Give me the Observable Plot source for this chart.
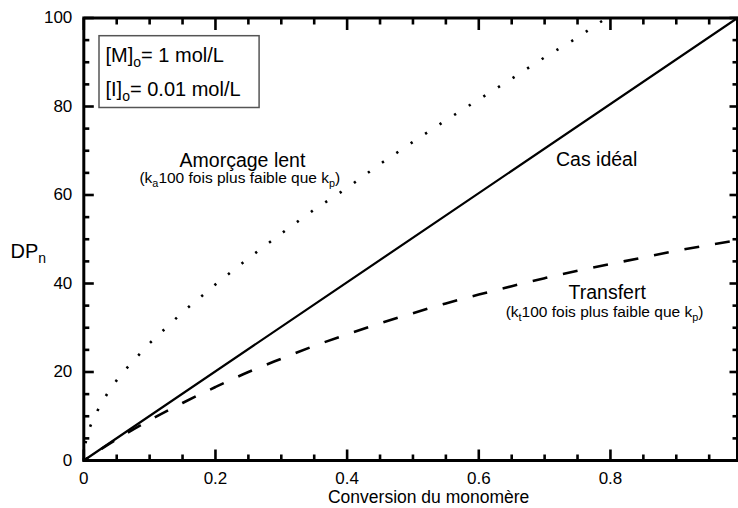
<!DOCTYPE html>
<html><head><meta charset="utf-8">
<script src="https://cdn.jsdelivr.net/npm/d3@7"></script>
<script src="https://cdn.jsdelivr.net/npm/@observablehq/plot@0.6"></script>
<style>html,body{margin:0;padding:0;background:#fff;}</style>
</head><body><div id="chart"></div>
<script>
// ---- data ----
const idealConversion = [0, 0.993];
const idealDP = [0, 100];

const slowConversion = [0, 0.002, 0.0066, 0.0157, 0.027, 0.041, 0.057, 0.075, 0.1, 0.15, 0.2, 0.25, 0.3, 0.35, 0.4, 0.45, 0.5, 0.55, 0.6, 0.65, 0.7, 0.75, 0.79];
const slowDP = [0, 3.5, 6.6, 9.8, 13, 16.4, 19.5, 22.5, 26.5, 33.5, 39.8, 45.7, 51.3, 56.7, 61.6, 67.0, 72.0, 76.9, 81.6, 86.3, 91.1, 95.6, 99.6];

const transferConversion = [0, 0.05, 0.1, 0.15, 0.2, 0.25, 0.3, 0.35, 0.4, 0.45, 0.5, 0.55, 0.6, 0.65, 0.7, 0.75, 0.8, 0.85, 0.9, 0.95, 0.993];
const transferDP = [0, 4.8, 9.1, 13.0, 16.6, 20.0, 23.0, 25.9, 28.5, 31.0, 33.3, 35.5, 37.5, 39.4, 41.2, 42.9, 44.4, 45.9, 47.4, 48.7, 49.8];

const xMajorTicks = [0, 0.2, 0.4, 0.6, 0.8];
const xTickLabels = ["0", "0.2", "0.4", "0.6", "0.8"];
const xMinorTicks = [0.05, 0.1, 0.15, 0.25, 0.3, 0.35, 0.45, 0.5, 0.55, 0.65, 0.7, 0.75, 0.85, 0.9, 0.95];
const yMajorTicks = [0, 20, 40, 60, 80, 100];
const yTickLabels = ["0", "20", "40", "60", "80", "100"];
const yMinorTicks = [5, 10, 15, 25, 30, 35, 45, 50, 55, 65, 70, 75, 85, 90, 95];

const xTitle = "Conversion du monomère";
const yTitle = "DP_{n}";
const conditions = ["[M]_{o}= 1 mol/L", "[I]_{o}= 0.01 mol/L"];
const seriesNames = ["Cas idéal", "Amorçage lent", "Transfert"];
const seriesNotes = ["(k_{a}100 fois plus faible que k_{p})", "(k_{t}100 fois plus faible que k_{p})"];

// ---- build ----
const toRows = (xs, ys) => xs.map((x, i) => ({x, y: ys[i]}));
const W = 738, H = 508, mL = 83.3, mR = 1, mT = 17.5, mB = 48;
const plotW = W - mL - mR, plotH = H - mT - mB;
const xMax = 0.993, yMax = 100;
const ff = "Liberation Sans";
const tk = {stroke: "black", strokeWidth: 2.6, strokeLinecap: "butt"};
const tx = (size) => ({fontFamily: ff, fontSize: size, fill: "black", lineAnchor: "middle"});
// tick lengths in pixels, turned into scale units
const py = (px) => px * yMax / plotH;
const px = (p) => p * xMax / plotW;
const xTicks = (ticks, len, atTop) => Plot.link(ticks, {x1: d => d, x2: d => d, y1: atTop ? yMax : 0, y2: atTop ? yMax - py(len) : py(len), ...tk});
const yTicks = (ticks, len, atRight) => Plot.link(ticks, {y1: d => d, y2: d => d, x1: atRight ? xMax : 0, x2: atRight ? xMax - px(len) : px(len), ...tk});

const chart = Plot.plot({
  width: W, height: H,
  marginLeft: mL, marginRight: mR, marginTop: mT, marginBottom: mB,
  x: {domain: [0, xMax]},
  y: {domain: [0, yMax]},
  marks: [
    Plot.line(toRows(idealConversion, idealDP), {x: "x", y: "y", stroke: "black", strokeWidth: 2.2}),
    Plot.line(toRows(slowConversion, slowDP), {x: "x", y: "y", stroke: "black", strokeWidth: 2.6, strokeDasharray: "2.3,15", strokeLinecap: "butt"}),
    Plot.line(toRows(transferConversion, transferDP), {x: "x", y: "y", curve: "monotone-x", stroke: "black", strokeWidth: 2.6, strokeDasharray: "15,16", strokeDashoffset: 10, strokeLinecap: "butt"}),
    // inward ticks on all four sides
    xTicks(xMinorTicks, 6, false), xTicks(xMajorTicks, 11, false),
    xTicks(xMinorTicks, 6.5, true), xTicks(xMajorTicks, 12, true),
    yTicks(yMinorTicks, 5.5, false), yTicks(yMajorTicks, 10, false),
    yTicks(yMinorTicks, 5, true), yTicks(yMajorTicks, 8, true),
    Plot.frame({stroke: "black", strokeWidth: 3}),
    Plot.axisX(xMajorTicks, {tickFormat: (d, i) => xTickLabels[i], tickSize: 0, tickPadding: 11, fontSize: 17, fontFamily: ff, fill: "black", label: null}),
    Plot.axisY(yMajorTicks, {tickFormat: (d, i) => yTickLabels[i], tickSize: 0, tickPadding: 11.5, fontSize: 17, fontFamily: ff, fill: "black", label: null}),
    Plot.text([xTitle], {text: d => d, frameAnchor: "bottom", dx: 18, dy: 37, ...tx(17.5)}),
    Plot.text([yTitle], {text: d => d, frameAnchor: "left", textAnchor: "start", dx: -73.3, dy: 12.8, ...tx(20)}),
    Plot.text([conditions[0]], {text: d => d, frameAnchor: "top-left", textAnchor: "start", dx: 21.7, dy: 37.8, ...tx(20), className: "cond"}),
    Plot.text([conditions[1]], {text: d => d, frameAnchor: "top-left", textAnchor: "start", dx: 21.7, dy: 71.1, ...tx(20), className: "cond"}),
    Plot.text([seriesNames[0]], {text: d => d, x: 0.779, y: 67.9, ...tx(19.5)}),
    Plot.text([seriesNames[1]], {text: d => d, x: 0.241, y: 67.8, ...tx(19.5)}),
    Plot.text([seriesNotes[0]], {text: d => d, x: 0.237, y: 63.8, ...tx(15.5)}),
    Plot.text([seriesNames[2]], {text: d => d, x: 0.795, y: 38.0, ...tx(19.5)}),
    Plot.text([seriesNotes[1]], {text: d => d, x: 0.791, y: 33.5, ...tx(15.5)})
  ]
});
document.getElementById("chart").appendChild(chart);

// subscripts written as _{..}
const NS = "http://www.w3.org/2000/svg";
chart.querySelectorAll("text").forEach(t => {
  const s = t.textContent;
  if (!s.includes("_{")) return;
  const parts = s.split(/_\{([^}]*)\}/);
  while (t.firstChild) t.removeChild(t.firstChild);
  let afterSub = false;
  parts.forEach((p, i) => {
    if (!p) return;
    const ts = document.createElementNS(NS, "tspan");
    ts.textContent = p;
    if (i % 2 === 1) {
      ts.setAttribute("font-size", "0.7em");
      ts.setAttribute("dy", (0.25 / 0.7).toFixed(3) + "em");
      afterSub = true;
    } else if (afterSub) {
      ts.setAttribute("dy", "-0.25em");
      afterSub = false;
    }
    t.appendChild(ts);
  });
});

// box around the initial conditions, sized from the text itself
const sb = chart.getBoundingClientRect();
let x0 = Infinity, y0 = Infinity, x1 = -Infinity, y1 = -Infinity;
chart.querySelectorAll("g.cond text").forEach(t => {
  const b = t.getBoundingClientRect();
  x0 = Math.min(x0, b.left - sb.left); y0 = Math.min(y0, b.top - sb.top);
  x1 = Math.max(x1, b.right - sb.left); y1 = Math.max(y1, b.bottom - sb.top);
});
const rect = document.createElementNS(NS, "rect");
rect.setAttribute("x", x0 - 6.5); rect.setAttribute("y", y0 - 8.5);
rect.setAttribute("width", (x1 - x0) + 6.5 + 18.5); rect.setAttribute("height", (y1 - y0) + 8.5 + 4);
rect.setAttribute("fill", "none"); rect.setAttribute("stroke", "#555"); rect.setAttribute("stroke-width", 1.5);
chart.appendChild(rect);
</script>
</body></html>
